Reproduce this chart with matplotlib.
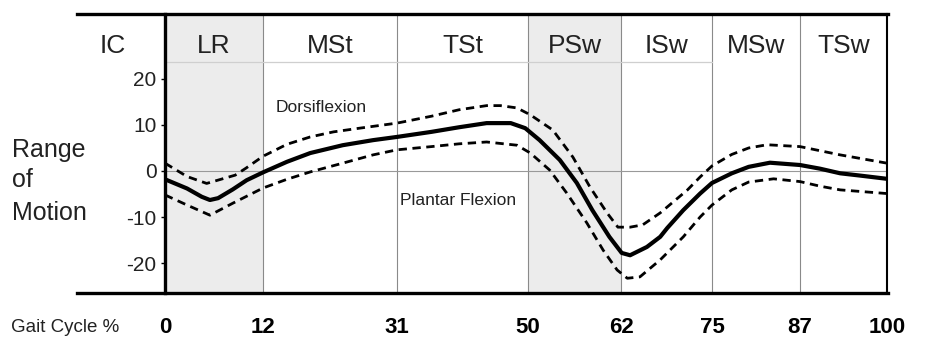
import numpy as np
import matplotlib
matplotlib.use("Agg")
import matplotlib.pyplot as plt

plt.rcParams['font.family'] = ['Liberation Sans', 'DejaVu Sans']

# gait phases
phase_pct = [0, 12, 31, 50, 62, 75, 87, 100]
phase_names = ["LR", "MSt", "TSt", "PSw", "ISw", "MSw", "TSw"]
shaded = [(0, 12), (50, 62)]

# ankle range of motion (deg), mean and +/- band
mean_x = [0, 2.7, 4.5, 5.5, 6.5, 8.3, 10, 12, 15.4, 18.7, 23.3, 27.6, 31, 36, 40, 44, 47.5,
          49.6, 51.5, 54.1, 56.3, 58.3, 60.5, 62.1, 63.3, 65.7, 67.6, 68.6, 70.9, 73.3, 75,
          77.7, 80, 82.9, 87, 90, 93, 96, 100]
mean_y = [-1.8, -3.8, -5.6, -6.3, -5.9, -4.0, -2.0, -0.3, 2.0, 3.9, 5.6, 6.7, 7.4, 8.5, 9.5,
          10.4, 10.4, 9.3, 6.7, 2.4, -2.6, -8.5, -14.3, -17.8, -18.3, -16.5, -14.3, -12.4,
          -8.5, -4.9, -2.6, -0.5, 0.9, 1.8, 1.3, 0.5, -0.5, -1.0, -1.7]

upper_x = [0, 2.7, 5.1, 8.6, 9.9, 12, 15.4, 18.7, 22, 25.7, 31, 36, 40, 44, 46, 48.4, 50.3,
           53.2, 55.8, 58, 60.2, 61.6, 63.3, 65.1, 67.6, 71.5, 73.3, 75, 77.7, 80, 82.5,
           87, 90, 93, 100]
upper_y = [1.7, -1.2, -2.7, -0.9, 0.6, 3.2, 5.8, 7.4, 8.5, 9.3, 10.4, 11.9, 13.3, 14.2, 14.2,
           13.7, 12.2, 8.9, 3.0, -3.5, -9.1, -12.2, -12.2, -11.7, -9.1, -4.1, -1.3, 1.1,
           3.6, 5.0, 5.7, 5.3, 4.4, 3.5, 1.7]

lower_x = [0, 2.7, 5.5, 8.3, 12, 15.4, 18.7, 23.3, 27.6, 31, 36, 40, 44, 48.4, 50.3, 52.8,
           55, 57.6, 59.7, 61.5, 62.9, 64.7, 67.6, 70.9, 73.3, 75, 77.7, 80, 83.4, 87, 90,
           93, 100]
lower_y = [-5.2, -7.4, -9.6, -7.0, -3.7, -1.8, -0.2, 1.7, 3.5, 4.6, 5.3, 5.9, 6.3, 5.6, 3.9,
           0.2, -4.8, -11.3, -17.2, -21.5, -23.3, -23.0, -19.3, -14.3, -10.0, -7.4, -4.1,
           -2.4, -1.7, -2.3, -3.3, -4.1, -4.9]

yticks = [-20, -10, 0, 10, 20]
ytick_labels = ["-20", "-10", "0", "10", "20"]

W, H = 925, 338
# the original's x axis is not linear, phase borders sit at these pixels
phase_px = [165, 263, 397, 528, 621, 712, 800, 887]

def fwd(x):
    return np.interp(x, phase_pct, phase_px)

def inv(p):
    return np.interp(p, phase_px, phase_pct)

fig = plt.figure(figsize=(W / 100, H / 100), dpi=100)
ax = fig.add_axes([165 / W, 45 / H, 722 / W, 279 / H])
ax.set_xscale('function', functions=(fwd, inv))
ax.set_xlim(0, 100)
ax.set_ylim(-26.5, 34.1)

for a, b in shaded:
    ax.axvspan(a, b, color="#ececec", lw=0, zorder=0)
for p in phase_pct[1:-1]:
    ax.axvline(p, color="#8a8a8a", lw=0.8, zorder=1)
ax.axhline(0, color="#999999", lw=0.8, zorder=1)
ax.plot([0, 75], [23.7, 23.7], color="#cfcfcf", lw=0.9, zorder=1)

ax.plot(upper_x, upper_y, color="black", lw=2.0, ls=(0, (3, 2)), zorder=3)
ax.plot(lower_x, lower_y, color="black", lw=2.0, ls=(0, (3, 2)), zorder=3)
ax.plot(mean_x, mean_y, color="black", lw=3.0, zorder=4,
        solid_capstyle="round", solid_joinstyle="round")

for i, name in enumerate(phase_names):
    cx = inv((fwd(phase_pct[i]) + fwd(phase_pct[i + 1])) / 2)
    ax.text(cx, 25.6, name, ha="center", va="baseline", fontsize=19, color="#222222")

ax.text(13.8, 12.8, "Dorsiflexion", fontsize=12.5, va="baseline", color="#222222")
ax.text(31.4, -7.4, "Plantar Flexion", fontsize=12.5, va="baseline", color="#222222")

ax.set_yticks(yticks)
ax.set_yticklabels(ytick_labels, fontsize=15, color="#222222")
ax.tick_params(axis="y", length=3, width=1, pad=3)
ax.set_xticks(phase_pct)
ax.set_xticklabels([str(p) for p in phase_pct], fontsize=16, fontweight="bold")
ax.tick_params(axis="x", length=0, pad=17)

ax.spines["left"].set_linewidth(2.4)
ax.spines["right"].set_linewidth(1.5)
ax.spines["top"].set_visible(False)
ax.spines["bottom"].set_visible(False)

# long top / bottom rules reaching into the label column
for yp in (14, 293):
    fig.add_artist(plt.Line2D([77 / W, 888 / W], [1 - yp / H, 1 - yp / H],
                              color="black", lw=2.4))

fig.text(113 / W, 1 - 53 / H, "IC", ha="center", va="baseline", fontsize=19, color="#222222")
fig.text(12 / W, 1 - 157 / H, "Range", va="baseline", fontsize=18, color="#222222")
fig.text(12 / W, 1 - 187 / H, "of", va="baseline", fontsize=18, color="#222222")
fig.text(12 / W, 1 - 220 / H, "Motion", va="baseline", fontsize=18, color="#222222")
fig.text(11 / W, 1 - 332 / H, "Gait Cycle %", va="baseline", fontsize=13.5, color="#222222")

fig.savefig("out.png", dpi=100)
